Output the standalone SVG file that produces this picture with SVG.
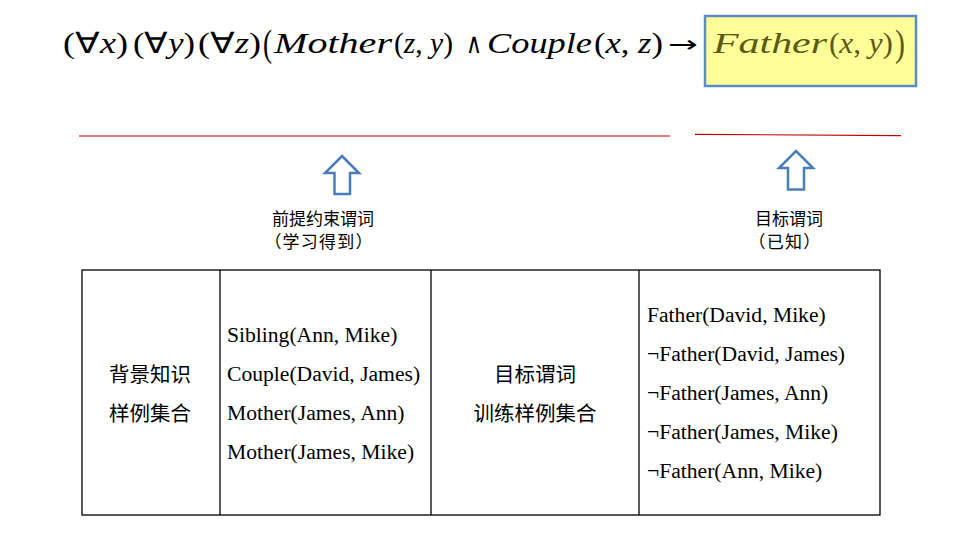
<svg xmlns="http://www.w3.org/2000/svg" width="957" height="533" viewBox="0 0 957 533">
<style>
.f{font-family:"Liberation Serif","Times New Roman",serif;font-size:29px;fill:#000}
.it{font-style:italic}
.big{font-family:"Liberation Serif","Times New Roman",serif;font-size:38px}
.and{font-family:"DejaVu Sans","Liberation Sans",sans-serif;font-size:28px;fill:#000}
.arr{font-family:"DejaVu Sans","Liberation Sans",sans-serif;font-size:23px;fill:#000}
.cjk{font-family:"Noto Sans CJK SC","Noto Sans",sans-serif;fill:#000}
.tm{font-family:"Liberation Serif","Times New Roman",serif;font-size:21.6px;fill:#000}
.arrow{fill:#fff;stroke:#4A7EBB;stroke-width:2.5}
.red{stroke:#C00000;stroke-width:1.2}
.cell{fill:none;stroke:#000;stroke-width:1.3}
.ol{fill:#5C5A14}
</style>
<rect width="957" height="533" fill="#fff"/>
<g id="formula">
<rect x="705" y="16" width="211" height="70" fill="#FFFF99" stroke="#5B8BC8" stroke-width="2.5"/>
<text class="f" x="63" y="53" textLength="65" lengthAdjust="spacingAndGlyphs">(∀<tspan class="it">x</tspan>)</text>
<text class="f" x="133" y="53" textLength="62" lengthAdjust="spacingAndGlyphs">(∀<tspan class="it">y</tspan>)</text>
<text class="f" x="198" y="53" textLength="63" lengthAdjust="spacingAndGlyphs">(∀<tspan class="it">z</tspan>)</text>
<text class="big" x="263" y="56" textLength="9" lengthAdjust="spacingAndGlyphs">(</text>
<text class="f it" x="274" y="53" textLength="118" lengthAdjust="spacingAndGlyphs">Mother</text>
<text class="f" x="394" y="53" textLength="59" lengthAdjust="spacingAndGlyphs">(<tspan class="it">z</tspan>, <tspan class="it">y</tspan>)</text>
<text class="and" x="466" y="53" textLength="16" lengthAdjust="spacingAndGlyphs">∧</text>
<text class="f it" x="487" y="53" textLength="105" lengthAdjust="spacingAndGlyphs">Couple</text>
<text class="f" x="594" y="53" textLength="69" lengthAdjust="spacingAndGlyphs">(<tspan class="it">x</tspan>, <tspan class="it">z</tspan>)</text>
<text class="arr" x="668" y="52" textLength="30" lengthAdjust="spacingAndGlyphs">→</text>
<text class="f it ol" x="713" y="53" textLength="114" lengthAdjust="spacingAndGlyphs">Father</text>
<text class="f ol" x="829" y="53" textLength="64" lengthAdjust="spacingAndGlyphs">(<tspan class="it">x</tspan>, <tspan class="it">y</tspan>)</text>
<text class="big ol" x="895" y="56" textLength="10" lengthAdjust="spacingAndGlyphs">)</text>
</g>
<g id="underlines">
<line class="red" x1="79" y1="136" x2="670" y2="136"/>
<line class="red" x1="695" y1="134.3" x2="901" y2="135.7"/>
</g>
<g id="connectors">
<polygon class="arrow" points="342,156 359,173 350,173 350,194 334.5,194 334.5,173 325,173"/>
<polygon class="arrow" points="796,151 813,168 804,168 804,189.5 788,189.5 788,168 779,168"/>
</g>
<g id="label-premise">
<text class="cjk" x="323" y="225" font-size="17" text-anchor="middle">前提约束谓词</text>
<text class="cjk" x="319" y="247.5" font-size="17" text-anchor="middle" letter-spacing="1.2">（学习得到）</text>
</g>
<g id="label-target">
<text class="cjk" x="789" y="225" font-size="17" text-anchor="middle">目标谓词</text>
<text class="cjk" x="785" y="247.5" font-size="17" text-anchor="middle" letter-spacing="1.2">（已知）</text>
</g>
<g id="table">
<rect class="cell" x="82" y="270" width="798" height="245"/>
<line class="cell" x1="220" y1="270" x2="220" y2="515"/>
<line class="cell" x1="431" y1="270" x2="431" y2="515"/>
<line class="cell" x1="639" y1="270" x2="639" y2="515"/>
</g>
<g id="cell-background">
<text class="cjk" x="150" y="382" font-size="20.5" text-anchor="middle">背景知识</text>
<text class="cjk" x="150" y="421" font-size="20.5" text-anchor="middle">样例集合</text>
</g>
<g id="cell-background-facts">
<text class="tm" x="227" y="342">Sibling(Ann, Mike)</text>
<text class="tm" x="227" y="381">Couple(David, James)</text>
<text class="tm" x="227" y="420">Mother(James, Ann)</text>
<text class="tm" x="227" y="459">Mother(James, Mike)</text>
</g>
<g id="cell-target">
<text class="cjk" x="535" y="382" font-size="20.5" text-anchor="middle">目标谓词</text>
<text class="cjk" x="535" y="421" font-size="20.5" text-anchor="middle">训练样例集合</text>
</g>
<g id="cell-target-facts">
<text class="tm" x="647" y="322">Father(David, Mike)</text>
<text class="tm" x="647" y="361">¬Father(David, James)</text>
<text class="tm" x="647" y="400">¬Father(James, Ann)</text>
<text class="tm" x="647" y="439">¬Father(James, Mike)</text>
<text class="tm" x="647" y="478">¬Father(Ann, Mike)</text>
</g>
</svg>
